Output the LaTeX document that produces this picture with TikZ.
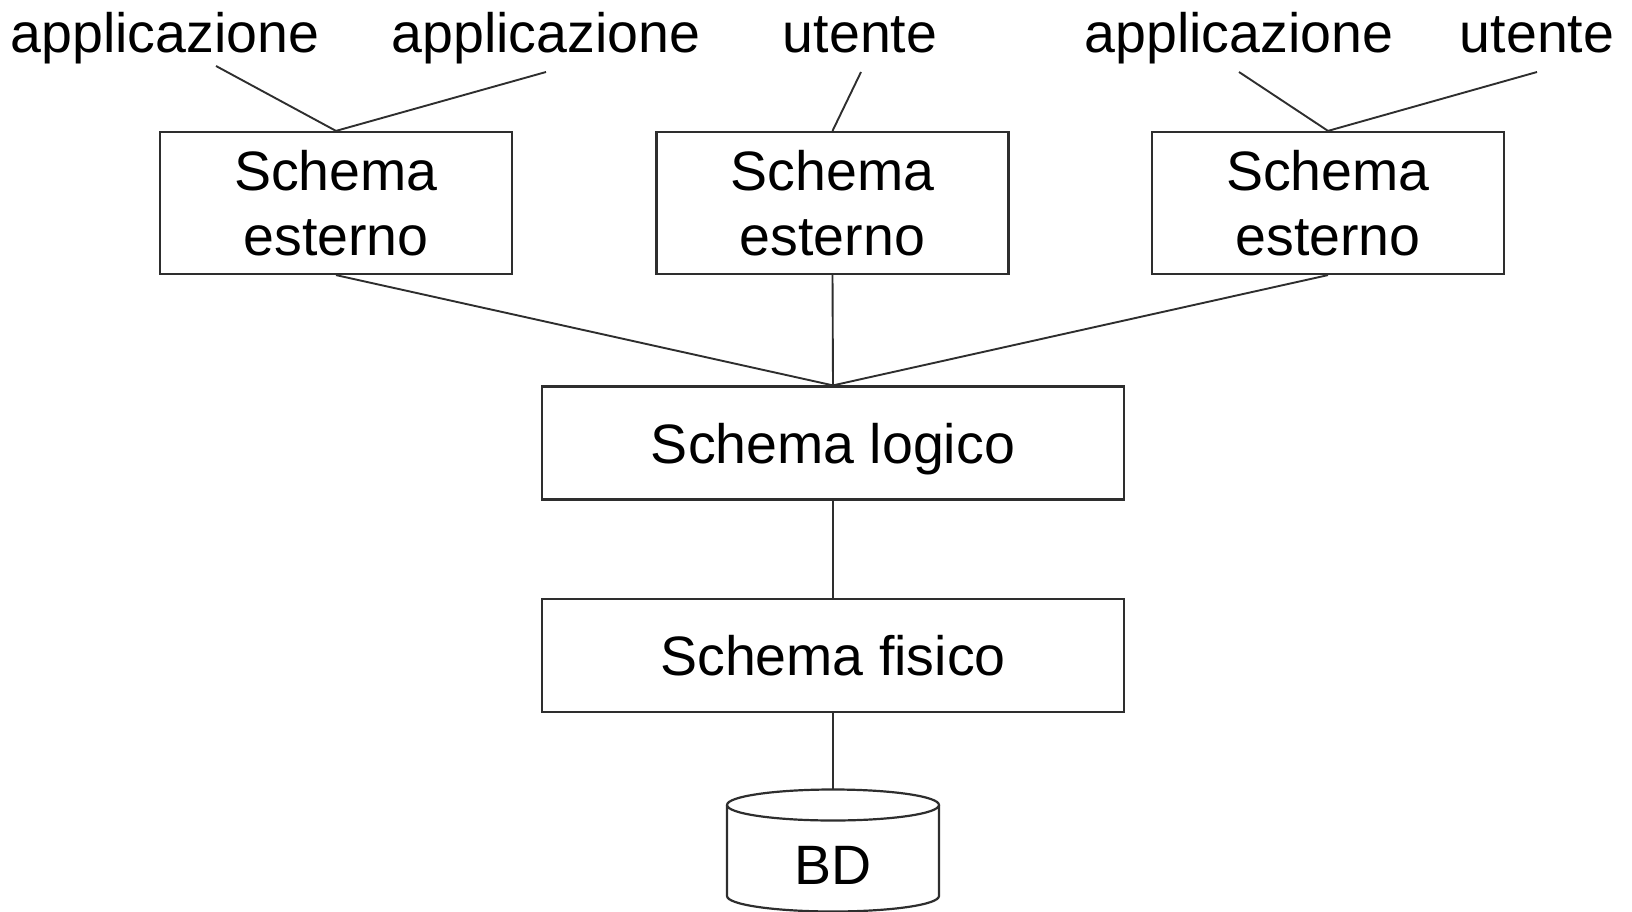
\documentclass[tikz,border=0pt]{standalone}
\usepackage{fontspec}
\setmainfont{Liberation Sans}
\definecolor{linecol}{HTML}{2E2E2E}
\begin{document}
\begin{tikzpicture}[x=1pt,y=-1pt,
  every node/.style={font=\fontsize{55.5}{65}\selectfont, inner sep=0pt},
  box/.style={draw=linecol, line width=2.2pt, rectangle},
  ext/.style={box, minimum width=352pt, minimum height=142pt, align=center},
  wide/.style={box, minimum width=582pt, minimum height=113pt, text height=40pt, text depth=0pt},
  lab/.style={anchor=base},
  conn/.style={draw=linecol, line width=1.9pt}]
\useasboundingbox (0,0) rectangle (1632,912);

% labels
\node[lab] (l1) at (165,53) {applicazione};
\node[lab] (l2) at (546,53) {applicazione};
\node[lab] (l3) at (860,53) {utente};
\node[lab] (l4) at (1239,53) {applicazione};
\node[lab] (l5) at (1537,53) {utente};
\coordinate (c1) at (216,66);
\coordinate (c2) at (546,72);
\coordinate (c3) at (861,72);
\coordinate (c4) at (1239,72);
\coordinate (c5) at (1537,72);

% external schemas
\node[ext] (e1) at (336,203) {Schema\\esterno};
\node[ext] (e2) at (832.5,203) {Schema\\esterno};
\node[ext] (e3) at (1328,203) {Schema\\esterno};

% logical and physical
\node[wide] (log) at (833,443) {Schema logico};
\node[wide] (fis) at (833,655.5) {Schema fisico};

% database cylinder
\node (bd) at (833,864) [text height=40pt, text depth=0pt] {BD};
\coordinate (bdtop) at (833,789);
\draw[conn, line width=2.2pt] (727,805) -- (727,896) arc[start angle=180, end angle=360, x radius=106pt, y radius=15.5pt] -- (939,805);
\draw[conn, line width=2.2pt] (833,805) ellipse [x radius=106pt, y radius=15.5pt];

% connectors
\draw[conn] (c1) -- (e1.north);
\draw[conn] (c2) -- (e1.north);
\draw[conn] (c3) -- (e2.north);
\draw[conn] (c4) -- (e3.north);
\draw[conn] (c5) -- (e3.north);
\draw[conn] (e1.south) -- (log.north);
\draw[conn] (e2.south) -- (log.north);
\draw[conn] (e3.south) -- (log.north);
\draw[conn] (log.south) -- (fis.north);
\draw[conn] (fis.south) -- (bdtop);
\end{tikzpicture}
\end{document}
